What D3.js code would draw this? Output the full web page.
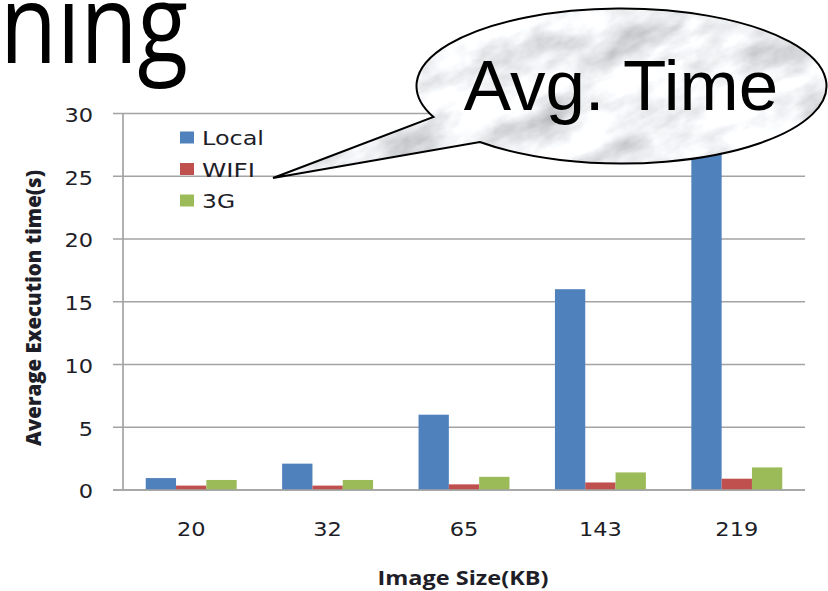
<!DOCTYPE html>
<html>
<head>
<meta charset="utf-8">
<script src="https://cdn.jsdelivr.net/npm/d3@7"></script>
<style>
  html, body { margin: 0; padding: 0; background: #fff; }
  svg { display: block; }
</style>
</head>
<body>
<svg id="chart" width="828" height="591"></svg>
<script>
// Image sizes (KB) and average execution time (s) per run mode
const categories = ["20", "32", "65", "143", "219"];
const seriesNames = ["Local", "WIFI", "3G"];
const localTimes = [0.95, 2.1, 6.0, 16.0, 28.5];
const wifiTimes = [0.35, 0.35, 0.45, 0.6, 0.9];
const g3Times = [0.8, 0.8, 1.05, 1.4, 1.8];
const yTicks = [0, 5, 10, 15, 20, 25, 30];

const seriesValues = [localTimes, wifiTimes, g3Times];
const seriesColors = ["#4F81BD", "#C0504D", "#9BBB59"];

const svg = d3.select("#chart");
const plot = { left: 123, right: 805, top: 113.5, bottom: 490, tick: 10 };

svg.append("rect").attr("width", 828).attr("height", 591).attr("fill", "#fff");

// Slide heading fragment
svg.append("text")
  .attr("x", 0).attr("y", 63)
  .attr("font-family", "'Open Sans', sans-serif")
  .attr("font-size", 110)
  .attr("textLength", 188).attr("lengthAdjust", "spacingAndGlyphs")
  .attr("fill", "#000")
  .text("ning");

// Scales
const x = d3.scaleBand().domain(categories)
  .range([plot.left, plot.right]).paddingInner(1 / 3).paddingOuter(1 / 6);
const xs = d3.scaleBand().domain(seriesNames).range([0, x.bandwidth()]);
const y = d3.scaleLinear().domain([0, 30]).range([plot.bottom, plot.top]);

// Horizontal gridlines
svg.append("g").selectAll("line").data(yTicks).join("line")
  .attr("x1", plot.left - plot.tick).attr("x2", plot.right)
  .attr("y1", d => y(d)).attr("y2", d => y(d))
  .attr("stroke", "#a3a3a3").attr("stroke-width", 1.7);

// Vertical axis line
svg.append("line")
  .attr("x1", plot.left).attr("x2", plot.left)
  .attr("y1", y(30)).attr("y2", y(0))
  .attr("stroke", "#a3a3a3").attr("stroke-width", 1.7);

// Y axis tick labels
const yAxis = svg.append("g")
  .attr("transform", `translate(${plot.left},0)`)
  .call(d3.axisLeft(y).tickValues(yTicks).tickSize(0).tickPadding(30));
yAxis.select(".domain").remove();
yAxis.selectAll("text")
  .attr("font-family", "'DejaVu Sans', sans-serif")
  .attr("font-size", 19)
  .attr("fill", "#1e1e28")
  .attr("dy", "0.42em")
  .attr("textLength", function () { return this.textContent.length * 14.3; })
  .attr("lengthAdjust", "spacingAndGlyphs");

// X axis category labels
const xAxis = svg.append("g")
  .attr("transform", `translate(0,${plot.bottom})`)
  .call(d3.axisBottom(x).tickSize(0).tickPadding(33));
xAxis.select(".domain").remove();
xAxis.selectAll("text")
  .attr("font-family", "'DejaVu Sans', sans-serif")
  .attr("font-size", 19)
  .attr("fill", "#1e1e28")
  .attr("textLength", function () { return this.textContent.length * 14.3; })
  .attr("lengthAdjust", "spacingAndGlyphs");

// Bars
const barData = [];
seriesNames.forEach((name, i) => {
  categories.forEach((c, j) => {
    barData.push({ series: name, cat: c, value: seriesValues[i][j], color: seriesColors[i] });
  });
});
svg.append("g").selectAll("rect").data(barData).join("rect")
  .attr("x", d => x(d.cat) + xs(d.series))
  .attr("width", xs.bandwidth())
  .attr("y", d => y(d.value))
  .attr("height", d => y(0) - y(d.value))
  .attr("fill", d => d.color);

// Bottom axis line (drawn over bar bases)
svg.append("line")
  .attr("x1", plot.left - plot.tick).attr("x2", plot.right)
  .attr("y1", y(0)).attr("y2", y(0))
  .attr("stroke", "#a3a3a3").attr("stroke-width", 1.7);

// Axis titles
svg.append("text")
  .attr("x", 463).attr("y", 585)
  .attr("text-anchor", "middle")
  .attr("font-family", "'Open Sans', sans-serif")
  .attr("font-weight", 700)
  .attr("font-size", 19)
  .attr("fill", "#1e1e28")
  .attr("textLength", 171).attr("lengthAdjust", "spacingAndGlyphs")
  .text("Image Size(KB)");

svg.append("text")
  .attr("transform", "translate(41,308) rotate(-90)")
  .attr("text-anchor", "middle")
  .attr("font-family", "'Open Sans', sans-serif")
  .attr("font-weight", 800)
  .attr("font-size", 21)
  .attr("fill", "#1e1e28")
  .attr("textLength", 276).attr("lengthAdjust", "spacingAndGlyphs")
  .text("Average Execution time(s)");

// Legend
const legendWidths = [62, 53, 33];
const legend = svg.append("g").selectAll("g").data(seriesNames).join("g")
  .attr("transform", (d, i) => `translate(180,${137.5 + i * 31.5})`);
legend.append("rect")
  .attr("x", 0).attr("y", -6).attr("width", 14).attr("height", 12)
  .attr("fill", (d, i) => seriesColors[i]);
legend.append("text")
  .attr("x", 22).attr("y", 7.5)
  .attr("font-family", "'DejaVu Sans', sans-serif")
  .attr("font-size", 19)
  .attr("fill", "#1e1e28")
  .attr("textLength", (d, i) => legendWidths[i]).attr("lengthAdjust", "spacingAndGlyphs")
  .text(d => d);

// Callout bubble with marble fill
const bub = { cx: 621.5, cy: 86, rx: 205, ry: 77.5, a1: 156.5, a2: 133.7, tipX: 273, tipY: 178 };
const pt = a => [bub.cx + bub.rx * Math.cos(a * Math.PI / 180), bub.cy + bub.ry * Math.sin(a * Math.PI / 180)];
const p1 = pt(bub.a1), p2 = pt(bub.a2);
const bubblePath = `M${p2[0]},${p2[1]} A${bub.rx},${bub.ry} 0 1 0 ${p1[0]},${p1[1]} L${bub.tipX},${bub.tipY} Z`;

const defs = svg.append("defs");
defs.append("clipPath").attr("id", "bubbleClip").append("path").attr("d", bubblePath);
const f = defs.append("filter").attr("id", "marble")
  .attr("x", 0).attr("y", 0).attr("width", 1).attr("height", 1);
f.append("feTurbulence")
  .attr("type", "fractalNoise")
  .attr("baseFrequency", "0.016 0.03")
  .attr("numOctaves", 5)
  .attr("seed", 11)
  .attr("result", "noise");
f.append("feColorMatrix")
  .attr("in", "noise")
  .attr("type", "matrix")
  .attr("values", "1.0 0 0 0 0.38  1.0 0 0 0 0.39  1.0 0 0 0 0.41  0 0 0 0 1");

const bubbleG = svg.append("g").attr("clip-path", "url(#bubbleClip)");
bubbleG.append("rect")
  .attr("x", 260).attr("y", 0).attr("width", 570).attr("height", 185)
  .attr("fill", "#e2e3e5");
bubbleG.append("g")
  .attr("transform", `rotate(-25 ${bub.cx} ${bub.cy})`)
  .append("rect")
  .attr("x", bub.cx - 420).attr("y", bub.cy - 300)
  .attr("width", 840).attr("height", 600)
  .attr("filter", "url(#marble)");

svg.append("path")
  .attr("d", bubblePath)
  .attr("fill", "none")
  .attr("stroke", "#000")
  .attr("stroke-width", 2)
  .attr("stroke-linejoin", "miter");

svg.append("text")
  .attr("x", 621).attr("y", 110)
  .attr("text-anchor", "middle")
  .attr("font-family", "'Liberation Sans', Arial, sans-serif")
  .attr("font-size", 71)
  .attr("fill", "#000")
  .text("Avg. Time");
</script>
</body>
</html>
